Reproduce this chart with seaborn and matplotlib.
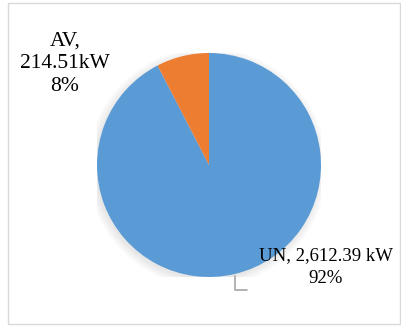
import matplotlib.pyplot as plt
import matplotlib.patches as mpatches
from matplotlib.lines import Line2D
import seaborn as sns

sns.set_theme(style="white")
plt.rcParams["font.family"] = ["Liberation Serif", "DejaVu Serif"]

# data
labels = ["UN", "AV"]
values = [2612.39, 214.51]
label_texts = ["UN, 2,612.39 kW\n92%", "AV,\n214.51kW\n8%"]
colors = ["#5B9BD5", "#ED7D31"]

W, H = 402, 326
fig = plt.figure(figsize=(W / 100, H / 100), dpi=100)
fig.patch.set_facecolor("white")

# outer chart border
fig.patches.append(mpatches.Rectangle((8 / W, 2 / H), 392 / W, 321 / H, transform=fig.transFigure,
                                      fill=False, edgecolor="#D9D9D9", linewidth=1))

cx, cy, r = 209, 165, 112
ax = fig.add_axes([(cx - r) / W, (H - cy - r) / H, 2 * r / W, 2 * r / H])

# soft shadow
for i in range(8):
    ax.add_patch(mpatches.Circle((-0.015, -0.02), 0.99 + 0.01 * (i + 1), color="black",
                                 alpha=0.012, lw=0, zorder=0))

ax.pie(values, colors=colors, startangle=90, counterclock=False, radius=1,
       wedgeprops={"linewidth": 0, "zorder": 2})
ax.set_xlim(-1, 1)
ax.set_ylim(-1, 1)
ax.set_aspect("equal")
ax.axis("off")

fig.text(65 / W, 1 - 64 / H, label_texts[1], ha="center", va="center", fontsize=15.5,
         linespacing=1.28, color="#000000")
fig.text(326 / W, 1 - 267 / H, label_texts[0], ha="center", va="center", fontsize=13.5,
         linespacing=1.4, color="#000000")

# leader line
fig.add_artist(Line2D([235 / W, 235 / W, 247 / W], [1 - 276 / H, 1 - 290 / H, 1 - 290 / H],
                      transform=fig.transFigure, color="#A6A6A6", linewidth=1.2))

fig.savefig("out.png", dpi=100)
